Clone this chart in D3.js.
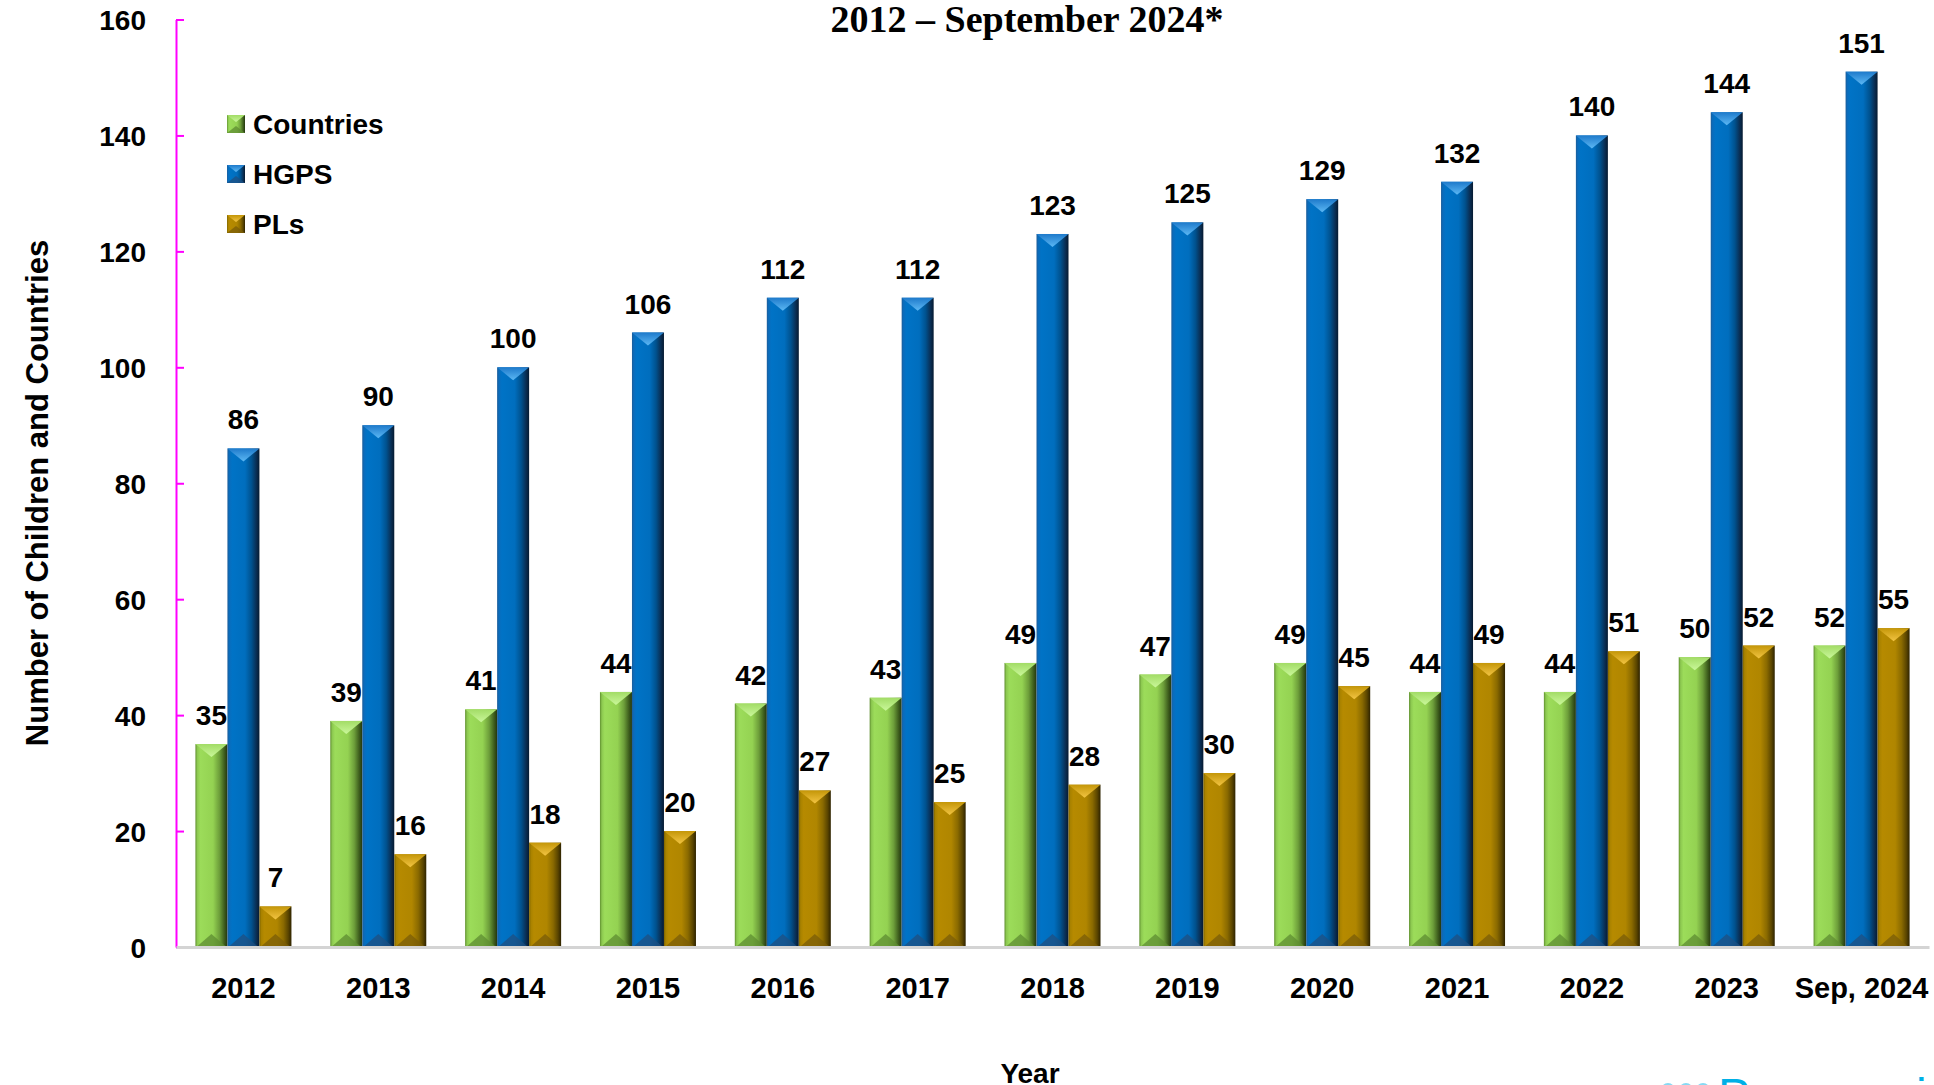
<!DOCTYPE html>
<html>
<head>
<meta charset="utf-8">
<script src="https://cdnjs.cloudflare.com/ajax/libs/d3/7.8.5/d3.min.js"></script>
<style>
  body { margin: 0; background: #fff; }
  svg text { font-family: "Liberation Sans", Arial, sans-serif; font-weight: bold; fill: #000; }
</style>
</head>
<body>
<svg id="chart" width="1934" height="1085"></svg>
<script>
// chart data
var years = ["2012", "2013", "2014", "2015", "2016", "2017", "2018", "2019", "2020", "2021", "2022", "2023", "Sep, 2024"];
var countries = [35, 39, 41, 44, 42, 43, 49, 47, 49, 44, 44, 50, 52];
var hgps = [86, 90, 100, 106, 112, 112, 123, 125, 129, 132, 140, 144, 151];
var pls = [7, 16, 18, 20, 27, 25, 28, 30, 45, 49, 51, 52, 55];
var seriesNames = ["Countries", "HGPS", "PLs"];
var yTicks = [0, 20, 40, 60, 80, 100, 120, 140, 160];

var svg = d3.select("#chart");
var plotLeft = 176, plotRight = 1929, plotTop = 19.5, plotBottom = 947;

// colours for the bevelled bars: side gradient, top chevron, bottom chevron
var looks = {
  Countries: { side: ["#5f8f2f", "#8cc850", "#9cdc5a", "#94d252", "#6d9e3a", "#3f5f1e", "#23360f"], topA: "#a2dc66", topB: "#caf79a", bot: "#5e8c32" },
  HGPS:      { side: ["#1d5d99", "#0a6cbc", "#0073c6", "#006ebe", "#00528f", "#0a2f55", "#061a30"], topA: "#1e7acb", topB: "#5cb8f4", bot: "#1f4f80" },
  PLs:       { side: ["#7d6300", "#a88200", "#b68a00", "#b08600", "#8a6a00", "#5a4500", "#2e2300"], topA: "#c49608", topB: "#f2c443", bot: "#7a5c08" }
};
var stopAt = [0, 0.06, 0.15, 0.55, 0.75, 0.9, 1];

var defs = svg.append("defs");
seriesNames.forEach(function(s, i) {
  var g = defs.append("linearGradient").attr("id", "side" + i)
    .attr("x1", 0).attr("x2", 1).attr("y1", 0).attr("y2", 0);
  looks[s].side.forEach(function(c, j) {
    g.append("stop").attr("offset", stopAt[j]).attr("stop-color", c);
  });
  var t = defs.append("linearGradient").attr("id", "top" + i)
    .attr("x1", 0).attr("x2", 0).attr("y1", 0).attr("y2", 1);
  t.append("stop").attr("offset", 0).attr("stop-color", looks[s].topA);
  t.append("stop").attr("offset", 1).attr("stop-color", looks[s].topB);
});

var x = d3.scaleBand().domain(years).range([plotLeft, plotRight]).paddingInner(0.288).paddingOuter(0.144);
var x1 = d3.scaleBand().domain(seriesNames).range([0, x.bandwidth()]);
var y = d3.scaleLinear().domain([0, 160]).range([plotBottom, plotTop]);

var rows = years.map(function(yr, i) {
  return { year: yr, values: [countries[i], hgps[i], pls[i]] };
});

// y axis (magenta, ticks pointing inward)
var yAxis = svg.append("g").attr("transform", "translate(" + plotLeft + ",0)")
  .call(d3.axisLeft(y).tickValues(yTicks).tickSizeInner(-8).tickSizeOuter(0).tickPadding(30));
yAxis.select(".domain").attr("stroke", "#ff00ff").attr("stroke-width", 2);
yAxis.selectAll(".tick line").attr("stroke", "#ff00ff").attr("stroke-width", 2);
yAxis.selectAll(".tick text").attr("font-size", 28).attr("dy", "0.36em")
  .style("font-family", "'Liberation Sans', Arial, sans-serif").style("font-weight", "bold");

// bars
var groups = svg.append("g").selectAll("g").data(rows).enter().append("g")
  .attr("transform", function(d) { return "translate(" + x(d.year) + ",0)"; });

var bars = groups.selectAll("g.bar").data(function(d) {
  return d.values.map(function(v, i) { return { s: seriesNames[i], i: i, v: v }; });
}).enter().append("g").attr("class", "bar");

var bw = x1.bandwidth();
bars.append("rect")
  .attr("x", function(d) { return x1(d.s); })
  .attr("y", function(d) { return y(d.v); })
  .attr("width", bw)
  .attr("height", function(d) { return plotBottom - y(d.v); })
  .attr("fill", function(d) { return "url(#side" + d.i + ")"; });

bars.append("path")
  .attr("d", function(d) {
    var x0 = x1(d.s), t = y(d.v);
    return "M" + x0 + "," + t + "L" + (x0 + bw) + "," + t + "L" + (x0 + bw / 2) + "," + (t + 13) + "Z";
  })
  .attr("fill", function(d) { return "url(#top" + d.i + ")"; });

bars.append("path")
  .attr("d", function(d) {
    var x0 = x1(d.s);
    return "M" + (x0 + 1) + "," + plotBottom + "L" + (x0 + bw - 1) + "," + plotBottom + "L" + (x0 + bw / 2) + "," + (plotBottom - 13) + "Z";
  })
  .attr("fill", function(d) { return looks[d.s].bot; })
  .attr("opacity", 0.75);

bars.append("text")
  .attr("x", function(d) { return x1(d.s) + bw / 2; })
  .attr("y", function(d) { return y(d.v) - 19; })
  .attr("text-anchor", "middle")
  .attr("font-size", 28)
  .text(function(d) { return d.v; });

// x axis
var xAxis = svg.append("g").attr("transform", "translate(0," + plotBottom + ")")
  .call(d3.axisBottom(x).tickSize(0).tickSizeOuter(0));
xAxis.select(".domain").attr("stroke", "#d4d4d4").attr("stroke-width", 3);
xAxis.selectAll(".tick text").attr("y", 51).attr("dy", 0).attr("font-size", 29)
  .style("font-family", "'Liberation Sans', Arial, sans-serif").style("font-weight", "bold");

// legend
var legend = svg.append("g").selectAll("g").data(seriesNames).enter().append("g")
  .attr("transform", function(d, i) { return "translate(227," + (115 + i * 50) + ")"; });
legend.append("rect").attr("width", 18).attr("height", 18)
  .attr("fill", function(d, i) { return "url(#side" + i + ")"; });
legend.append("path").attr("d", "M0,0L18,0L9,7Z")
  .attr("fill", function(d, i) { return "url(#top" + i + ")"; });
legend.append("path").attr("d", "M0,18L18,18L9,11Z")
  .attr("fill", function(d) { return looks[d].bot; }).attr("opacity", 0.75);
legend.append("text").attr("x", 26).attr("y", 19).attr("font-size", 28)
  .text(function(d) { return d; });

// titles
svg.append("text").attr("x", 1027).attr("y", 32).attr("text-anchor", "middle")
  .attr("font-size", 38).style("font-family", "'Liberation Serif', 'Times New Roman', serif")
  .text("2012 \u2013 September 2024*");

svg.append("text").attr("transform", "translate(48,493) rotate(-90)")
  .attr("text-anchor", "middle").attr("font-size", 31)
  .text("Number of Children and Countries");

svg.append("text").attr("x", 1030).attr("y", 1083).attr("text-anchor", "middle")
  .attr("font-size", 28).text("Year");

// cut-off logo in the corner
var logo = svg.append("g");
[1668, 1686, 1703].forEach(function(cx) {
  logo.append("circle").attr("cx", cx).attr("cy", 1090).attr("r", 7).attr("fill", "#86d9f3");
});
logo.append("text").attr("x", 1718).attr("y", 1112).attr("font-size", 48)
  .style("font-weight", "normal").style("fill", "#00b0e6").attr("letter-spacing", 9)
  .text("Progeria");
</script>
</body>
</html>
